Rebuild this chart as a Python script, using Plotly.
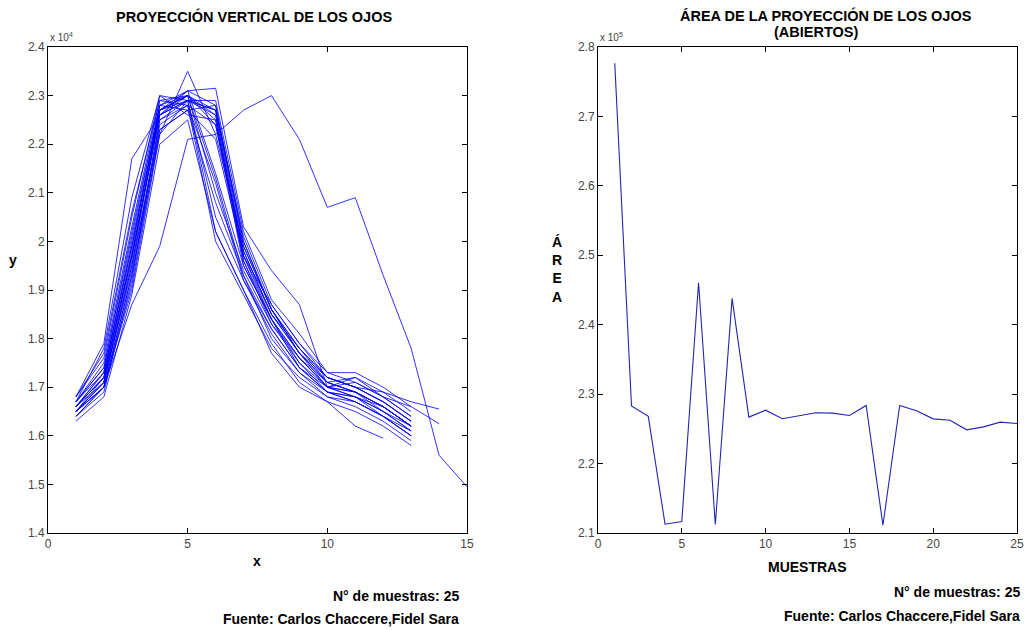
import plotly.graph_objects as go

W, H = 1031, 630

# Vertical projection profiles (units of 1e4), one list per sample
muestra_01 = [16600, 17200, 19700, 22600, 22900, 22700, 19800, 18500, 17700, 17100, 16900, 16600, 16200]
muestra_02 = [16500, 17100, 19500, 22700, 23000, 22500, 19600, 18300, 17600, 17000, 16800, 16500, 16100]
muestra_03 = [16700, 17400, 20200, 22800, 23100, 22800, 20000, 18600, 17800, 17200, 17000, 16700, 16300]
muestra_04 = [16400, 17000, 19300, 22400, 22800, 22400, 19500, 18400, 17500, 16900, 16700, 16400, 16000]
muestra_05 = [16800, 17600, 20500, 23000, 22900, 22600, 19700, 18700, 17900, 17300, 17100, 16800, 16400]
muestra_06 = [16600, 17300, 19900, 22700, 23100, 23150, 20300, 19400, 18700, 17000, 17200, 16900, 16500]
muestra_07 = [16500, 17000, 19000, 22200, 23500, 22200, 19900, 18600, 17700, 17000, 16800, 16600, 16200]
muestra_08 = [16700, 17800, 20900, 23000, 22600, 22500, 19600, 18400, 17600, 17100, 16900, 16500, 16200]
muestra_09 = [16400, 16900, 19200, 22500, 22900, 22900, 20200, 18800, 18100, 17300, 17300, 17000, 16600]
muestra_10 = [16600, 17100, 19600, 22700, 23000, 22600, 19700, 18500, 17700, 17200, 17000, 16700, 16300]
muestra_11 = [16500, 17200, 19800, 22800, 22700, 22800, 19900, 18600, 17800, 17100, 16900, 16600, 16200]
muestra_12 = [16700, 17500, 20300, 22900, 23000, 22700, 20100, 18700, 17900, 17200, 17000, 16700, 16300]
muestra_13 = [16600, 17300, 19900, 22700, 22900, 20500, 19200, 18200, 17400, 16900, 16800, 16500, 16100]
muestra_14 = [16500, 17100, 19400, 22500, 22800, 20000, 18900, 17800, 17200, 16800, 16700, 16400, 16000]
muestra_15 = [16700, 17400, 20100, 22800, 23000, 21000, 19400, 18300, 17500, 17000, 16900, 16600, 16200]
muestra_16 = [16400, 17000, 19100, 22300, 22700, 20800, 19300, 18000, 17300, 16800, 16600, 16300, 15900]
muestra_17 = [16600, 17200, 19700, 22600, 23100, 21400, 19500, 18400, 17400, 16900, 16700, 16400, 16000]
muestra_18 = [16800, 17700, 20600, 22900, 22800, 21200, 19200, 18100, 17300, 16900, 16800, 16400, 16100]
muestra_19 = [16300, 16800, 18900, 22000, 22500, 20200, 19000, 17900, 17100, 16700, 16500, 16200, 15800]
muestra_20 = [16500, 17000, 19300, 22200, 22900, 20200, 19000, 17700, 17000, 16700, 16200, 15950]
muestra_21 = [16700, 17300, 20000, 22700, 23000, 22400, 19800, 18500, 17800, 17200, 17000, 16900, 16700, 16550]
muestra_22 = [16600, 17200, 19700, 22600, 22900, 22700, 20000, 18600, 17700, 17100, 17200, 16800, 16600, 16250]
muestra_23 = [16800, 17900, 21700, 22600, 23000, 21300, 19300, 18200, 17400, 17000, 16900, 16600, 16200]
muestra_24 = [16500, 17000, 18700, 19900, 22100, 22200, 22700, 23000, 22100, 20700, 20900, 19300, 17800, 15600, 14950]
muestra_25 = [16500, 17100, 19500, 22300, 22700, 22100, 19700, 18400, 17600, 17000, 17100, 16800, 16400]

perfiles = [muestra_01, muestra_02, muestra_03, muestra_04, muestra_05, muestra_06, muestra_07,
            muestra_08, muestra_09, muestra_10, muestra_11, muestra_12, muestra_13, muestra_14,
            muestra_15, muestra_16, muestra_17, muestra_18, muestra_19, muestra_20, muestra_21,
            muestra_22, muestra_23, muestra_24, muestra_25]

# Area of the eye projection (open eyes), per sample
muestras = list(range(1, 26))
area = [277650, 228300, 226800, 211270, 211660, 246040, 211220, 243790, 226690, 227690,
        226450, 226930, 227310, 227260, 226930, 228370, 211120, 228370, 227600, 226440,
        226250, 224860, 225290, 225970, 225780]

left_x_ticks = [0, 5, 10, 15]
left_y_ticks = [1.4, 1.5, 1.6, 1.7, 1.8, 1.9, 2.0, 2.1, 2.2, 2.3, 2.4]
right_x_ticks = [0, 5, 10, 15, 20, 25]
right_y_ticks = [2.1, 2.2, 2.3, 2.4, 2.5, 2.6, 2.7, 2.8]


def px(x):
    return x / W


def py(y):
    return 1 - y / H


fig = go.Figure()

for p in perfiles:
    fig.add_trace(go.Scatter(
        x=list(range(1, len(p) + 1)), y=[v / 1e4 for v in p],
        mode="lines", line=dict(color="#0000ff", width=1), opacity=0.8,
        xaxis="x", yaxis="y", showlegend=False, hoverinfo="skip"))

fig.add_trace(go.Scatter(
    x=muestras, y=[v / 1e5 for v in area],
    mode="lines", line=dict(color="#2424b4", width=1.1),
    xaxis="x2", yaxis="y2", showlegend=False))

axis_common = dict(
    showline=True, linecolor="black", linewidth=1, mirror="ticks",
    ticks="inside", ticklen=5, tickcolor="black", showgrid=False, zeroline=False,
    automargin=False,
    tickfont=dict(family="Liberation Sans, Arial", size=12, color="#444444"),
)

fig.update_layout(
    width=W, height=H,
    margin=dict(l=0, r=0, t=0, b=0),
    paper_bgcolor="white", plot_bgcolor="white",
    xaxis=dict(domain=[px(48), px(467)], range=[0, 15], tickvals=left_x_ticks,
               anchor="y", **axis_common),
    yaxis=dict(domain=[py(533), py(47)], range=[1.4, 2.4], tickvals=left_y_ticks,
               ticktext=[f"{v:g}" for v in left_y_ticks], anchor="x", **axis_common),
    xaxis2=dict(domain=[px(598), px(1017)], range=[0, 25], tickvals=right_x_ticks,
                anchor="y2", **axis_common),
    yaxis2=dict(domain=[py(533), py(47)], range=[2.1, 2.8], tickvals=right_y_ticks,
                ticktext=[f"{v:g}" for v in right_y_ticks], anchor="x2", **axis_common),
)

title_font = dict(family="Liberation Sans, Arial", size=14.5, color="black")
label_font = dict(family="Liberation Sans, Arial", size=14, color="black")
foot_font = dict(family="Liberation Sans, Arial", size=14, color="black")
small = dict(family="Liberation Sans, Arial", size=10, color="#444444")


def note(text, x, y, font, xanchor="center", yanchor="middle", align="center"):
    fig.add_annotation(text=text, x=px(x), y=py(y), xref="paper", yref="paper",
                       showarrow=False, font=font, xanchor=xanchor, yanchor=yanchor,
                       align=align)


# Titles
note("<b>PROYECCIÓN VERTICAL DE LOS OJOS</b>", 254, 16, title_font)
note("<b>ÁREA DE LA PROYECCIÓN DE LOS OJOS</b>", 826, 15, title_font)
note("<b>(ABIERTOS)</b>", 816, 32, title_font)

# Scale factors
note("x 10<sup>4</sup>", 48, 37, small, xanchor="left")
note("x 10<sup>5</sup>", 598, 37, small, xanchor="left")

# Axis labels
note("<b>y</b>", 13, 260, label_font)
note("<b>x</b>", 257, 561, label_font)
note("<b>MUESTRAS</b>", 807, 567, label_font)
note("<b>Á<br>R<br>E<br>A</b>", 557, 269, label_font)

# Footers
note("<b>N° de muestras: 25</b>", 461, 596, foot_font, xanchor="right")
note("<b>Fuente: Carlos Chaccere,Fidel Sara</b>", 461, 619, foot_font, xanchor="right")
note("<b>N° de muestras: 25</b>", 1022, 592, foot_font, xanchor="right")
note("<b>Fuente: Carlos Chaccere,Fidel Sara</b>", 1022, 616, foot_font, xanchor="right")

fig.write_html("out.html")
